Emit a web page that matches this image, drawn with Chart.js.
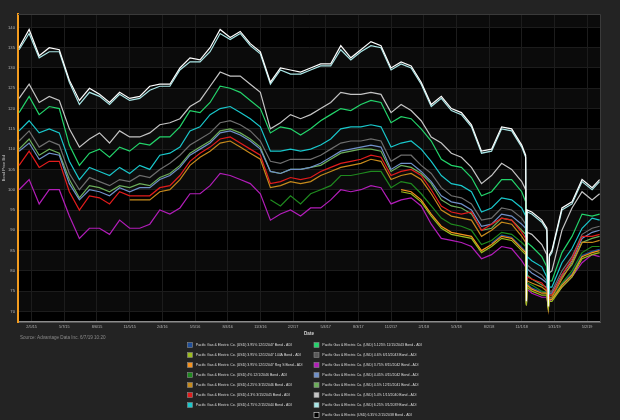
<!DOCTYPE html>
<html><head><meta charset="utf-8">
<script src="https://cdn.jsdelivr.net/npm/chart.js@4"></script>
<style>html,body{margin:0;padding:0;background:#232323;}canvas{display:block}</style>
</head><body><canvas id="c" width="620" height="420"></canvas>
<script>
const DATES = [
'2015-01-01','2015-01-29','2015-02-26','2015-03-26','2015-04-23','2015-05-21','2015-06-18','2015-07-16','2015-08-13','2015-09-10','2015-10-08','2015-11-05','2015-12-03','2015-12-31','2016-01-28',
'2016-02-25','2016-03-24','2016-04-21','2016-05-19','2016-06-16','2016-07-14','2016-08-11','2016-09-08','2016-10-06','2016-11-03','2016-12-01','2016-12-29','2017-01-26','2017-02-23','2017-03-23',
'2017-04-20','2017-05-18','2017-06-15','2017-07-13','2017-08-10','2017-09-07','2017-10-05','2017-11-02','2017-11-30','2017-12-28','2018-01-25','2018-02-22','2018-03-22','2018-04-19',
'2018-05-17','2018-06-14','2018-07-12','2018-08-09','2018-09-06','2018-10-04','2018-11-01',
'2018-11-12','2018-11-14','2018-11-16',
'2018-11-29','2018-12-27',
'2019-01-10','2019-01-14','2019-01-17',
'2019-01-24','2019-02-21','2019-03-21','2019-04-18','2019-05-16','2019-06-06'];

const TICK_LABELS = ['2/5/15','5/7/15','8/6/15','11/5/15','2/4/16','5/5/16','8/4/16','11/3/16','2/2/17','5/4/17','8/3/17','11/2/17','2/1/18','5/3/18','8/2/18','11/1/18','1/31/19','5/2/19'];
const Y_TICKS = [70,75,80,85,90,95,100,105,110,115,120,125,130,135,140];
const X_TITLE = 'Date';
const Y_TITLE = 'Bond Price Bid';
const SOURCE_TEXT = 'Source: Advantage Data Inc. 6/7/19 10:20';

const LABELS = [
'Pacific Gas & Electric Co. (USD) 3.95% 12/1/2047 Bond - ADI',
'Pacific Gas & Electric Co. (USD) 3.95% 12/1/2047 144A Bond - ADI',
'Pacific Gas & Electric Co. (USD) 3.95% 12/1/2047 Reg S Bond - ADI',
'Pacific Gas & Electric Co. (USD) 4% 12/1/2046 Bond - ADI',
'Pacific Gas & Electric Co. (USD) 4.25% 3/15/2046 Bond - ADI',
'Pacific Gas & Electric Co. (USD) 4.3% 3/15/2045 Bond - ADI',
'Pacific Gas & Electric Co. (USD) 4.75% 2/15/2044 Bond - ADI',
'Pacific Gas & Electric Co. (USD) 5.125% 11/15/2043 Bond - ADI',
'Pacific Gas & Electric Co. (USD) 4.6% 6/15/2043 Bond - ADI',
'Pacific Gas & Electric Co. (USD) 3.75% 8/15/2042 Bond - ADI',
'Pacific Gas & Electric Co. (USD) 4.45% 4/15/2042 Bond - ADI',
'Pacific Gas & Electric Co. (USD) 4.5% 12/15/2041 Bond - ADI',
'Pacific Gas & Electric Co. (USD) 5.4% 1/15/2040 Bond - ADI',
'Pacific Gas & Electric Co. (USD) 6.25% 3/1/2039 Bond - ADI',
'Pacific Gas & Electric (USD) 6.35% 2/15/2038 Bond - ADI'];

const B395_2047 = [
null,null,null,null,null,null,null,null,null,null,null,null,null,null,null,
null,null,null,null,null,null,null,null,null,null,null,null,null,null,null,
null,null,null,null,null,null,null,null,null,null,null,null,null,null,
null,null,null,86.8,88.8,88.3,85.8,
84.8,71.5,76.8,
75.8,74.8,
74.8,70.8,73.3,
73.3,76.8,79.3,83.8,84.8,85.3];
const B395_2047_144A = [
null,null,null,null,null,null,null,null,null,null,null,null,null,null,null,
null,null,null,null,null,null,null,null,null,null,null,null,null,null,null,
null,null,null,null,null,null,null,null,99.5,99,97,93.5,90.5,89,
88.5,88,84.5,86,88,87.5,85,
84,71.5,76,
75,74,
74,70.8,72.5,
72.5,76,78.5,83,84,84.5];
const B395_2047_REGS = [
null,null,null,null,null,null,null,null,null,null,null,null,null,null,null,
null,null,null,null,null,null,null,null,null,null,null,null,null,null,null,
null,null,null,null,null,null,null,null,100,99.5,97.5,94,91,89.5,
89,88.5,85,86.5,88.5,88,85.5,
84.5,71.5,76.5,
75.5,74.5,
74.5,70.6,73,
73,76.5,79,83.5,84.5,85];
const B4_2046 = [
null,null,null,null,null,null,null,null,null,null,null,null,null,null,null,
null,null,null,null,null,null,null,null,null,null,97.5,96,98.5,96.5,99,
100,101,103.5,103.5,104,104.5,104.5,100.5,102,101.5,99,96,93,91.5,
91,90,86.5,87.5,89.5,89,87,
86,71.8,77,
76.5,75,
74.5,71,73,
73,77,80,84.5,86,86];
const B425_2046 = [
null,null,null,null,null,null,null,null,null,null,null,97.5,97.5,97.5,99.5,
100,102.5,106,108,109.5,111.5,112,110.5,109,107.5,100.5,101,102,101.5,102,
103.5,104.5,105.5,106,106.5,107.5,107,102.5,103.5,104,102.5,99,95,93.5,
93,92.5,88.5,90,92,91.5,88.5,
87,71.8,77.5,
77,76,
75,71,73.5,
73.5,78,82,87,87,87.5];
const B43_2045 = [
106,109.5,105.5,107,107,99.5,95,98.5,98,96.5,99.5,98.5,98.5,98.5,100.5,
101,103.5,107,109,110.5,112.5,113,111.5,110,108.5,101.5,102,103,102.5,103,
104.5,105.5,106.5,107,107.5,108.5,108,103.5,104.5,105,103.5,100,96,94.5,
94,94.5,90,91.5,93,92.5,89.5,
88,72,78.5,
78,77,
75.5,71,74,
74,79,83,88.5,88.5,89];
const B475_2044 = [
114.5,117,114,115,114,107,102.5,105.5,104.5,103.5,105.5,104,106,105,108.5,
109,110.5,114.5,115.5,118.5,120,120.5,119,117.5,115.5,109.5,109.5,110,109.5,110,
111,112.5,115,115.5,115.5,116,115.5,110.5,111.5,112,110,107,103.5,101.5,
101,99.5,94.5,95.5,98,97.5,95.5,
93.5,72,83.5,
82.5,81,
78.5,71,76,
76,82,85.5,90.5,93,92.5];
const B5125_2043 = [
119,123,118.5,120.5,120,111,106,109,110,108,110.5,109.5,111.5,111,113,
113,115.5,119.5,119,121.5,125.5,125,124,122,120,114,115.5,115,113.5,115,
117,118.5,120,119.5,121,122,121.5,116.5,118,117.5,115,112,107.5,106,
105.5,103,98.5,99.5,102.5,102.5,99.5,
97,72,87,
86,83.5,
81,71,77.5,
77.5,84.5,88.5,94,93.5,94];
const B46_2043 = [
112,114.5,110.5,112,111,104,100,103,102,101,102.5,102,103.5,103,105,
106.5,108.5,111,112.5,114,116.5,117,116,114.5,112,107,106.5,107.5,107.5,107.5,
108.5,110,111.5,112,112,112.5,112,107,108.5,108.5,106,104,100.5,98.5,
98,96.5,92.5,93,95.5,95,93,
91.5,72,81.5,
80.5,79,
77.5,71,75,
75,80,83.5,89,90.5,91];
const B375_2042 = [
100,102.5,96.5,100,100,93.5,88,90.5,90.5,89,92.5,90.5,90.5,91.5,95,
94,95.5,99,99,101,104,103.5,102.5,101.5,99,92.5,94,95,93.5,95.5,
95.5,97.5,100,99.5,100,101,100.5,96.5,97.5,98,96,91.5,88,87.5,
87,86,83,84,86,85.5,82.5,
81,72,75.5,
74.5,73.5,
73.5,70.8,72.5,
73,76,78.5,82,84,83.5];
const B445_2042 = [
109.5,111.5,107.5,109,108.5,101.5,97.5,100,99.5,98.5,100.5,99.5,100.5,100.5,102.5,
103.5,105.5,108.5,110,111.5,114,114.5,113.5,112,110,104.5,104,105,105,105.5,
106.5,108,109.5,110,110.5,111,110.5,105,106.5,106.5,104.5,102,98.5,97,
96.5,95,91,91.5,94,93.5,91.5,
90.5,72,80.5,
79.5,78,
77,71,74.5,
74.5,79,82.5,88,89.5,90];
const B45_2041 = [
110,112.5,108.5,110,109,102.5,98,101,100.5,99.5,101,100.5,101.5,101,103,
104,106,109,110.5,112,114.5,115,114,112.5,110.5,104.5,104,105,105,105.5,
106,107.5,109,109.5,110,110,109.5,104.5,106,105.5,104,101.5,97.5,96,
95.5,94,90,90.5,93,92.5,90,
89,72,79,
78,76.5,
76,71,74,
74,78.5,81.5,87,88,88.5];
const B54_2040 = [
122.5,126,121.5,123,122,115,110.5,112.5,114,111.5,114.5,113,113,114,116,
116.5,117.5,120.5,122,125.5,129,128,128,126,124,115,116.5,118.5,117.5,118.5,
120,121.5,124,123.5,123.5,124,123.5,119,121,119.5,117,113,111.5,109,
108,105.5,101.5,103.5,106.5,105,102,
100,72.5,89.5,
89,86.5,
84,71.5,79.5,
80,90,95.5,99.5,97.5,99];
const B625_2039 = [
134.5,138.5,132.5,134,134,126.5,121,124,123,121,123.5,122,122.5,124.5,125.5,
125.5,129.5,131.5,131.5,134,138.5,137,138.5,135.5,133.5,126,129.5,128.5,128.5,129.5,
130.5,130.5,134.5,132,134,135.5,135,129.5,131,130,126,120.5,122.5,119.5,
118.5,115.5,109,109.5,115,114.5,110.5,
108,72.8,94.5,
94,92,
90,71.5,83.5,
84.5,95,96.5,102,100,102];
const B635_2038 = [
135,139.5,133,135,134.5,127,122,125,123.5,121.5,124,122.5,123,125.5,126,
126,130,132.5,132,135,139.5,137.5,139,136,134,126.5,130,129.5,129,130,
131,131,135.5,132.5,134.5,136.5,135.5,130,131.5,130.5,126.5,121,123,120,
119,116,109.5,110,115.5,115,111,
108.5,72.5,95,
94.5,92.5,
90.5,71.2,84,
85,95.5,97,102.5,100.5,102.5];

const SERIES_VALUES = [B395_2047,B395_2047_144A,B395_2047_REGS,B4_2046,B425_2046,B43_2045,B475_2044,B5125_2043,B46_2043,B375_2042,B445_2042,B45_2041,B54_2040,B625_2039,B635_2038];
const COLORS = ['#1f4f9a','#9cbc1e','#f5921e','#1f8a1f','#c68a1c','#e21c1c','#19c7cb','#23d46b','#6e6e6e','#b21db9','#7090c8','#6cae5a','#c5c5c5','#a9e6e6','#ffffff'];
const BOX_COLORS = ['#1f4f9a','#9cbc1e','#f5921e','#1f8a1f','#c68a1c','#e21c1c','#19c7cb','#23d46b','#5a5a5a','#b21db9','#7090c8','#6cae5a','#c5c5c5','#a9e6e6','#000000'];
const DRAW_ORDER = [3,1,1,1,1,1,1,1,1,1,1,1,1,1,0];

const DAY0 = Date.UTC(2015,1,5);
const dayOf = s => (Date.parse(s + 'T00:00:00Z') - DAY0) / 86400000;
const tickDay = s => { const p = s.split('/').map(Number); return (Date.UTC(2000 + p[2], p[0] - 1, p[1]) - DAY0) / 86400000; };
const X = DATES.map(dayOf);
const TICK_VALUES = TICK_LABELS.map(tickDay);

const FONT = "'Liberation Sans', Arial, sans-serif";
Chart.defaults.font.family = FONT;

const datasets = SERIES_VALUES.map((vals, i) => ({
  label: LABELS[i],
  data: vals.map((v, j) => ({x: X[j], y: v})),
  borderColor: COLORS[i],
  backgroundColor: BOX_COLORS[i],
  borderWidth: 1.2,
  pointRadius: 0,
  tension: 0,
  spanGaps: false,
  order: DRAW_ORDER[i]
}));

const bgPlugin = {
  id: 'bg',
  beforeDraw(chart) {
    const {ctx, chartArea: a, scales: {y}} = chart;
    ctx.save();
    ctx.fillStyle = '#232323';
    ctx.fillRect(0, 0, chart.width, chart.height);
    ctx.fillStyle = '#000';
    ctx.fillRect(a.left, a.top, a.right - a.left, a.bottom - a.top);
    ctx.fillStyle = '#0b0b0b';
    for (let v = 70; v <= 140; v += 10) {
      const y1 = Math.max(a.top, y.getPixelForValue(v + 5));
      const y0 = y.getPixelForValue(v);
      ctx.fillRect(a.left, y1, a.right - a.left, y0 - y1);
    }
    ctx.restore();
  },
  afterDraw(chart) {
    const {ctx, chartArea: a} = chart;
    ctx.save();
    ctx.strokeStyle = '#3a3a3a';
    ctx.lineWidth = 1;
    ctx.beginPath();
    ctx.moveTo(a.left, a.top + 0.5); ctx.lineTo(a.right + 0.5, a.top + 0.5); ctx.lineTo(a.right + 0.5, a.bottom);
    ctx.stroke();
    ctx.fillStyle = '#8a8a8a';
    ctx.font = '4.6px ' + FONT;
    ctx.textBaseline = 'middle';
    ctx.textAlign = 'left';
    ctx.fillText(SOURCE_TEXT, 20, 337.5);
    ctx.font = '3.5px ' + FONT;
    chart.data.datasets.forEach((ds, i) => {
      const col = i < 7 ? 0 : 1;
      const row = i < 7 ? i : i - 7;
      const bx = col === 0 ? 187.5 : 314;
      const cy = 345 + row * 10;
      ctx.fillStyle = ds.backgroundColor;
      ctx.fillRect(bx, cy - 2.5, 5, 5);
      ctx.strokeStyle = i === 14 ? '#e0e0e0' : '#8a8a8a';
      ctx.lineWidth = 0.6;
      ctx.strokeRect(bx, cy - 2.5, 5, 5);
      ctx.fillStyle = '#dedede';
      ctx.fillText(ds.label, bx + 8.3, cy);
    });
    ctx.restore();
  }
};

new Chart(document.getElementById('c'), {
  type: 'line',
  data: {datasets},
  options: {
    responsive: false,
    animation: false,
    devicePixelRatio: 1,
    layout: {padding: {left: 0, right: 20, top: 14, bottom: 84}},
    plugins: {legend: {display: false}, tooltip: {enabled: false}},
    scales: {
      x: {
        type: 'linear', min: -38, max: 1583,
        afterBuildTicks: s => { s.ticks = TICK_VALUES.map(v => ({value: v})); },
        afterFit: s => { s.height = 14; },
        ticks: {callback: (v, i) => TICK_LABELS[i], color: '#b4b4b4', font: {size: 3.8}, padding: 2.5, maxRotation: 0, minRotation: 0, autoSkip: false},
        grid: {color: '#1c1c1c', drawTicks: false},
        border: {color: '#8c8c8c', width: 1.5},
        title: {display: true, text: X_TITLE, color: '#d2d2d2', font: {size: 4.6, weight: 'bold'}, padding: {top: 0, bottom: 0}}
      },
      y: {
        min: 67.4, max: 143.3,
        afterBuildTicks: s => { s.ticks = Y_TICKS.map(v => ({value: v})); },
        afterFit: s => { s.width = 18; },
        ticks: {color: '#b4b4b4', font: {size: 4.2}, padding: 3},
        grid: {color: '#1c1c1c', drawTicks: false},
        border: {color: '#f39c1f', width: 2},
        title: {display: true, text: Y_TITLE, color: '#c8c8c8', font: {size: 4}, padding: {top: 1, bottom: 0}}
      }
    }
  },
  plugins: [bgPlugin]
});
</script>
</body></html>
